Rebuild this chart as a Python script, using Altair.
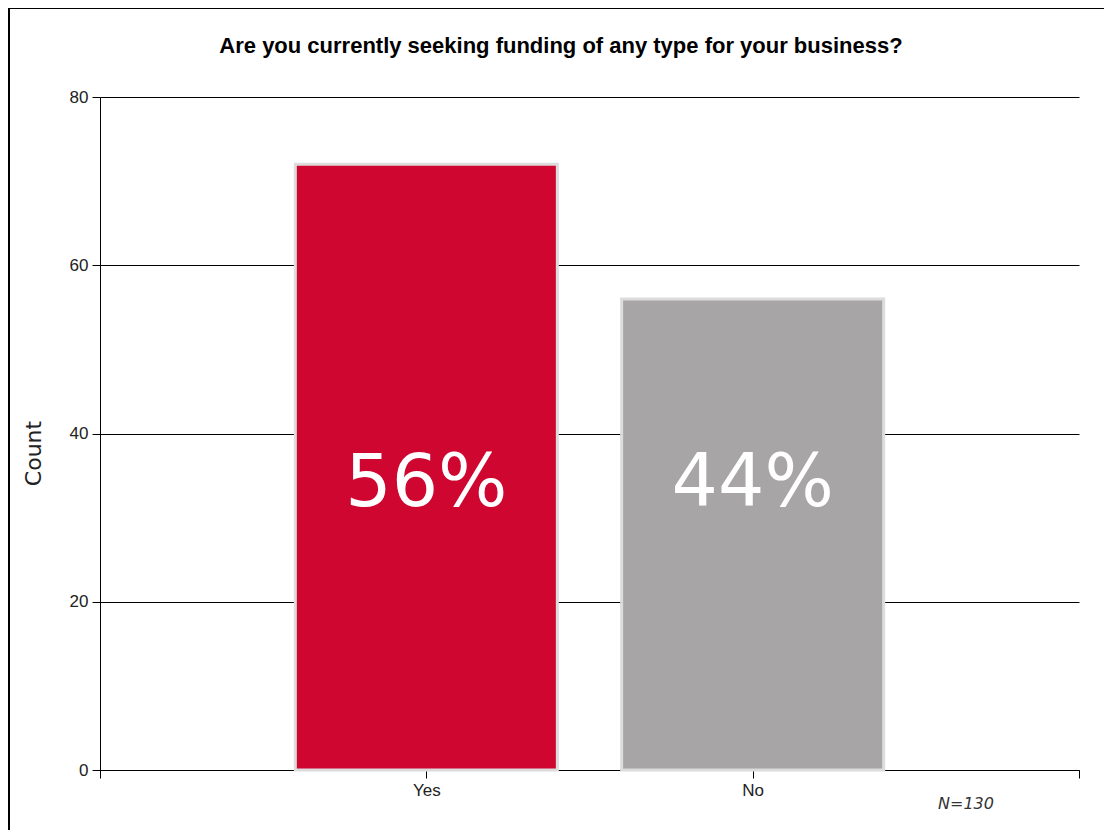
import altair as alt
import pandas as pd

categories = ["Yes", "No"]
counts = [72, 56]
colors = ["#CE0630", "#A7A5A6"]
y_ticks = [0, 20, 40, 60, 80]
n_label = "N=130"
title_text = "Are you currently seeking funding of any type for your business?"

total = sum(counts)
df = pd.DataFrame({
    "category": categories,
    "count": counts,
    "pos": list(range(1, len(categories) + 1)),
    "pct": [f"{round(100 * c / total)}%" for c in counts],
})

label_expr = " : ".join(
    [f"datum.value == {i + 1} ? '{c}'" for i, c in enumerate(categories)]
) + " : ''"

x_scale = alt.Scale(domain=[0, len(categories) + 1], nice=False, zero=False, padding=0)

x_enc = alt.X(
    "pos:Q",
    scale=x_scale,
    axis=alt.Axis(
        values=list(range(0, len(categories) + 2)),
        labelExpr=label_expr,
        title=None,
        grid=False,
        tickSize=8,
        tickColor="#000",
        domainColor="#000",
        labelFont="Liberation Sans",
        labelFontSize=17,
        labelColor="#222",
        labelPadding=4,
    ),
)

base = alt.Chart(df)

bars = base.mark_bar(size=262, stroke="#DCDCDC", strokeWidth=3).encode(
    x=x_enc,
    y=alt.Y(
        "count:Q",
        scale=alt.Scale(domain=[0, 80], nice=False),
        axis=alt.Axis(
            values=y_ticks,
            title="Count",
            grid=True,
            gridColor="#000",
            gridWidth=1,
            gridOpacity=1,
            tickSize=8,
            tickColor="#000",
            domainColor="#000",
            labelFont="Liberation Sans",
            labelFontSize=17,
            labelColor="#222",
            labelPadding=4,
            titleFont="DejaVu Sans",
            titleFontSize=22,
            titleFontWeight="normal",
            titleColor="#222",
            titleX=-67,
            titleY=356,
            titleAngle=-90,
            titleAlign="center",
            titleBaseline="middle",
        ),
    ),
    color=alt.Color(
        "category:N",
        scale=alt.Scale(domain=categories, range=colors),
        legend=None,
    ),
)

labels = base.mark_text(
    font="DejaVu Sans", fontSize=73, color="white", baseline="middle", align="center"
).encode(
    x="pos:Q",
    y=alt.value(387),
    text="pct:N",
)

note = alt.Chart(alt.Data(values=[{"t": n_label}])).mark_text(
    font="DejaVu Sans", fontSize=16, fontStyle="italic", color="#333",
    baseline="middle", align="center"
).encode(
    x=alt.value(866),
    y=alt.value(707),
    text="t:N",
)

title = alt.Chart(alt.Data(values=[{"t": title_text}])).mark_text(
    font="Liberation Sans", fontSize=22, fontWeight="bold", color="#000",
    baseline="alphabetic", align="center"
).encode(
    x=alt.value(461),
    y=alt.value(-44),
    text="t:N",
)

frame = alt.Chart(alt.Data(values=[{"a": 1}])).mark_rect(
    fill="transparent", stroke="#000", strokeWidth=3, clip=False
).encode(
    x=alt.value(-91.5),
    x2=alt.value(1300),
    y=alt.value(-89.5),
    y2=alt.value(1000),
)

chart = alt.layer(bars, labels, note, title, frame).properties(
    width=979,
    height=673,
    background="white",
    autosize=alt.AutoSizeParams(type="none"),
    padding={"left": 92, "top": 89, "right": 25, "bottom": 60},
).configure_view(stroke="transparent", strokeWidth=0)

chart.save("out.html", embed_options={"renderer": "svg", "actions": False})
